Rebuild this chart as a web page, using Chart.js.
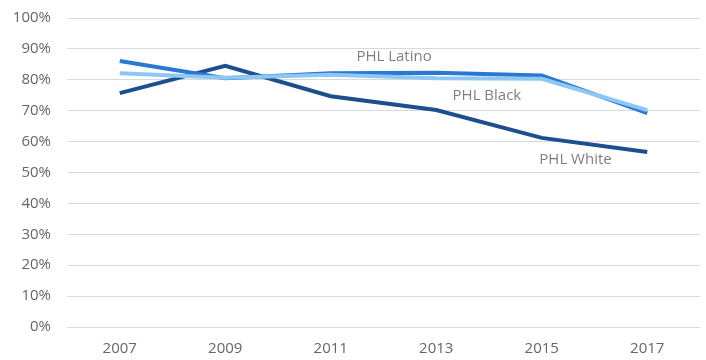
<!DOCTYPE html>
<html>
<head>
<meta charset="utf-8">
<script src="https://cdn.jsdelivr.net/npm/chart.js@4/dist/chart.umd.min.js"></script>
<style>
  html, body { margin: 0; padding: 0; background: #fff; }
  #wrap { width: 706px; height: 360px; }
</style>
</head>
<body>
<div id="wrap"><canvas id="myChart"></canvas></div>
<script>
const years = ['2007', '2009', '2011', '2013', '2015', '2017'];

const phlWhite = [0.757, 0.845, 0.747, 0.702, 0.612, 0.566];
const phlLatino = [0.861, 0.805, 0.821, 0.823, 0.814, 0.692];
const phlBlack = [0.821, 0.807, 0.816, 0.805, 0.803, 0.702];

// series name labels placed on the plot: [category index, value]
const labelNames = ['PHL Latino', 'PHL Black', 'PHL White'];
const labelAt = [[2.6, 0.874], [3.48, 0.748], [4.32, 0.54]];

const seriesLabels = {
  id: 'seriesLabels',
  afterDatasetsDraw(chart) {
    const { ctx, scales } = chart;
    ctx.save();
    ctx.font = '15px "Open Sans"';
    ctx.fillStyle = '#808080';
    ctx.textAlign = 'center';
    ctx.textBaseline = 'middle';
    labelNames.forEach((name, i) => {
      const x = scales.x.getPixelForValue(labelAt[i][0]);
      const y = scales.y.getPixelForValue(labelAt[i][1]);
      ctx.fillText(name, x, y);
    });
    ctx.restore();
  }
};

const data = {
  labels: years,
  datasets: [
    {
      label: 'PHL Black',
      data: phlBlack,
      borderColor: '#8fc7f4',
      backgroundColor: '#8fc7f4',
      borderWidth: 4,
      pointRadius: 0,
      tension: 0
    },
    {
      label: 'PHL Latino',
      data: phlLatino,
      borderColor: '#2b78d3',
      backgroundColor: '#2b78d3',
      borderWidth: 4,
      pointRadius: 0,
      tension: 0
    },
    {
      label: 'PHL White',
      data: phlWhite,
      borderColor: '#1d4f8e',
      backgroundColor: '#1d4f8e',
      borderWidth: 4,
      pointRadius: 0,
      tension: 0
    }
  ]
};

const config = {
  type: 'line',
  data,
  options: {
    responsive: true,
    maintainAspectRatio: false,
    animation: false,
    layout: { padding: { left: 6, right: 6, top: 18, bottom: 0 } },
    plugins: {
      legend: { display: false },
      tooltip: { enabled: false }
    },
    scales: {
      x: {
        offset: true,
        grid: { display: false, drawTicks: false },
        border: { display: false },
        ticks: {
          color: '#666666',
          font: { family: 'Open Sans', size: 15 },
          padding: 13,
          maxRotation: 0
        },
        afterFit: s => { s.height = 33; }
      },
      y: {
        min: 0,
        max: 1,
        grid: { color: '#d9d9d9', lineWidth: 1, drawTicks: false },
        border: { display: false },
        ticks: {
          stepSize: 0.1,
          color: '#666666',
          font: { family: 'Open Sans', size: 15 },
          padding: 16,
          callback: v => Math.round(v * 100) + '%'
        },
        afterFit: s => {
          s.width = 61;
          s.paddingTop = 9;
          s.paddingBottom = 9;
        }
      }
    }
  },
  plugins: [seriesLabels]
};

new Chart(document.getElementById('myChart'), config);
</script>
</body>
</html>
